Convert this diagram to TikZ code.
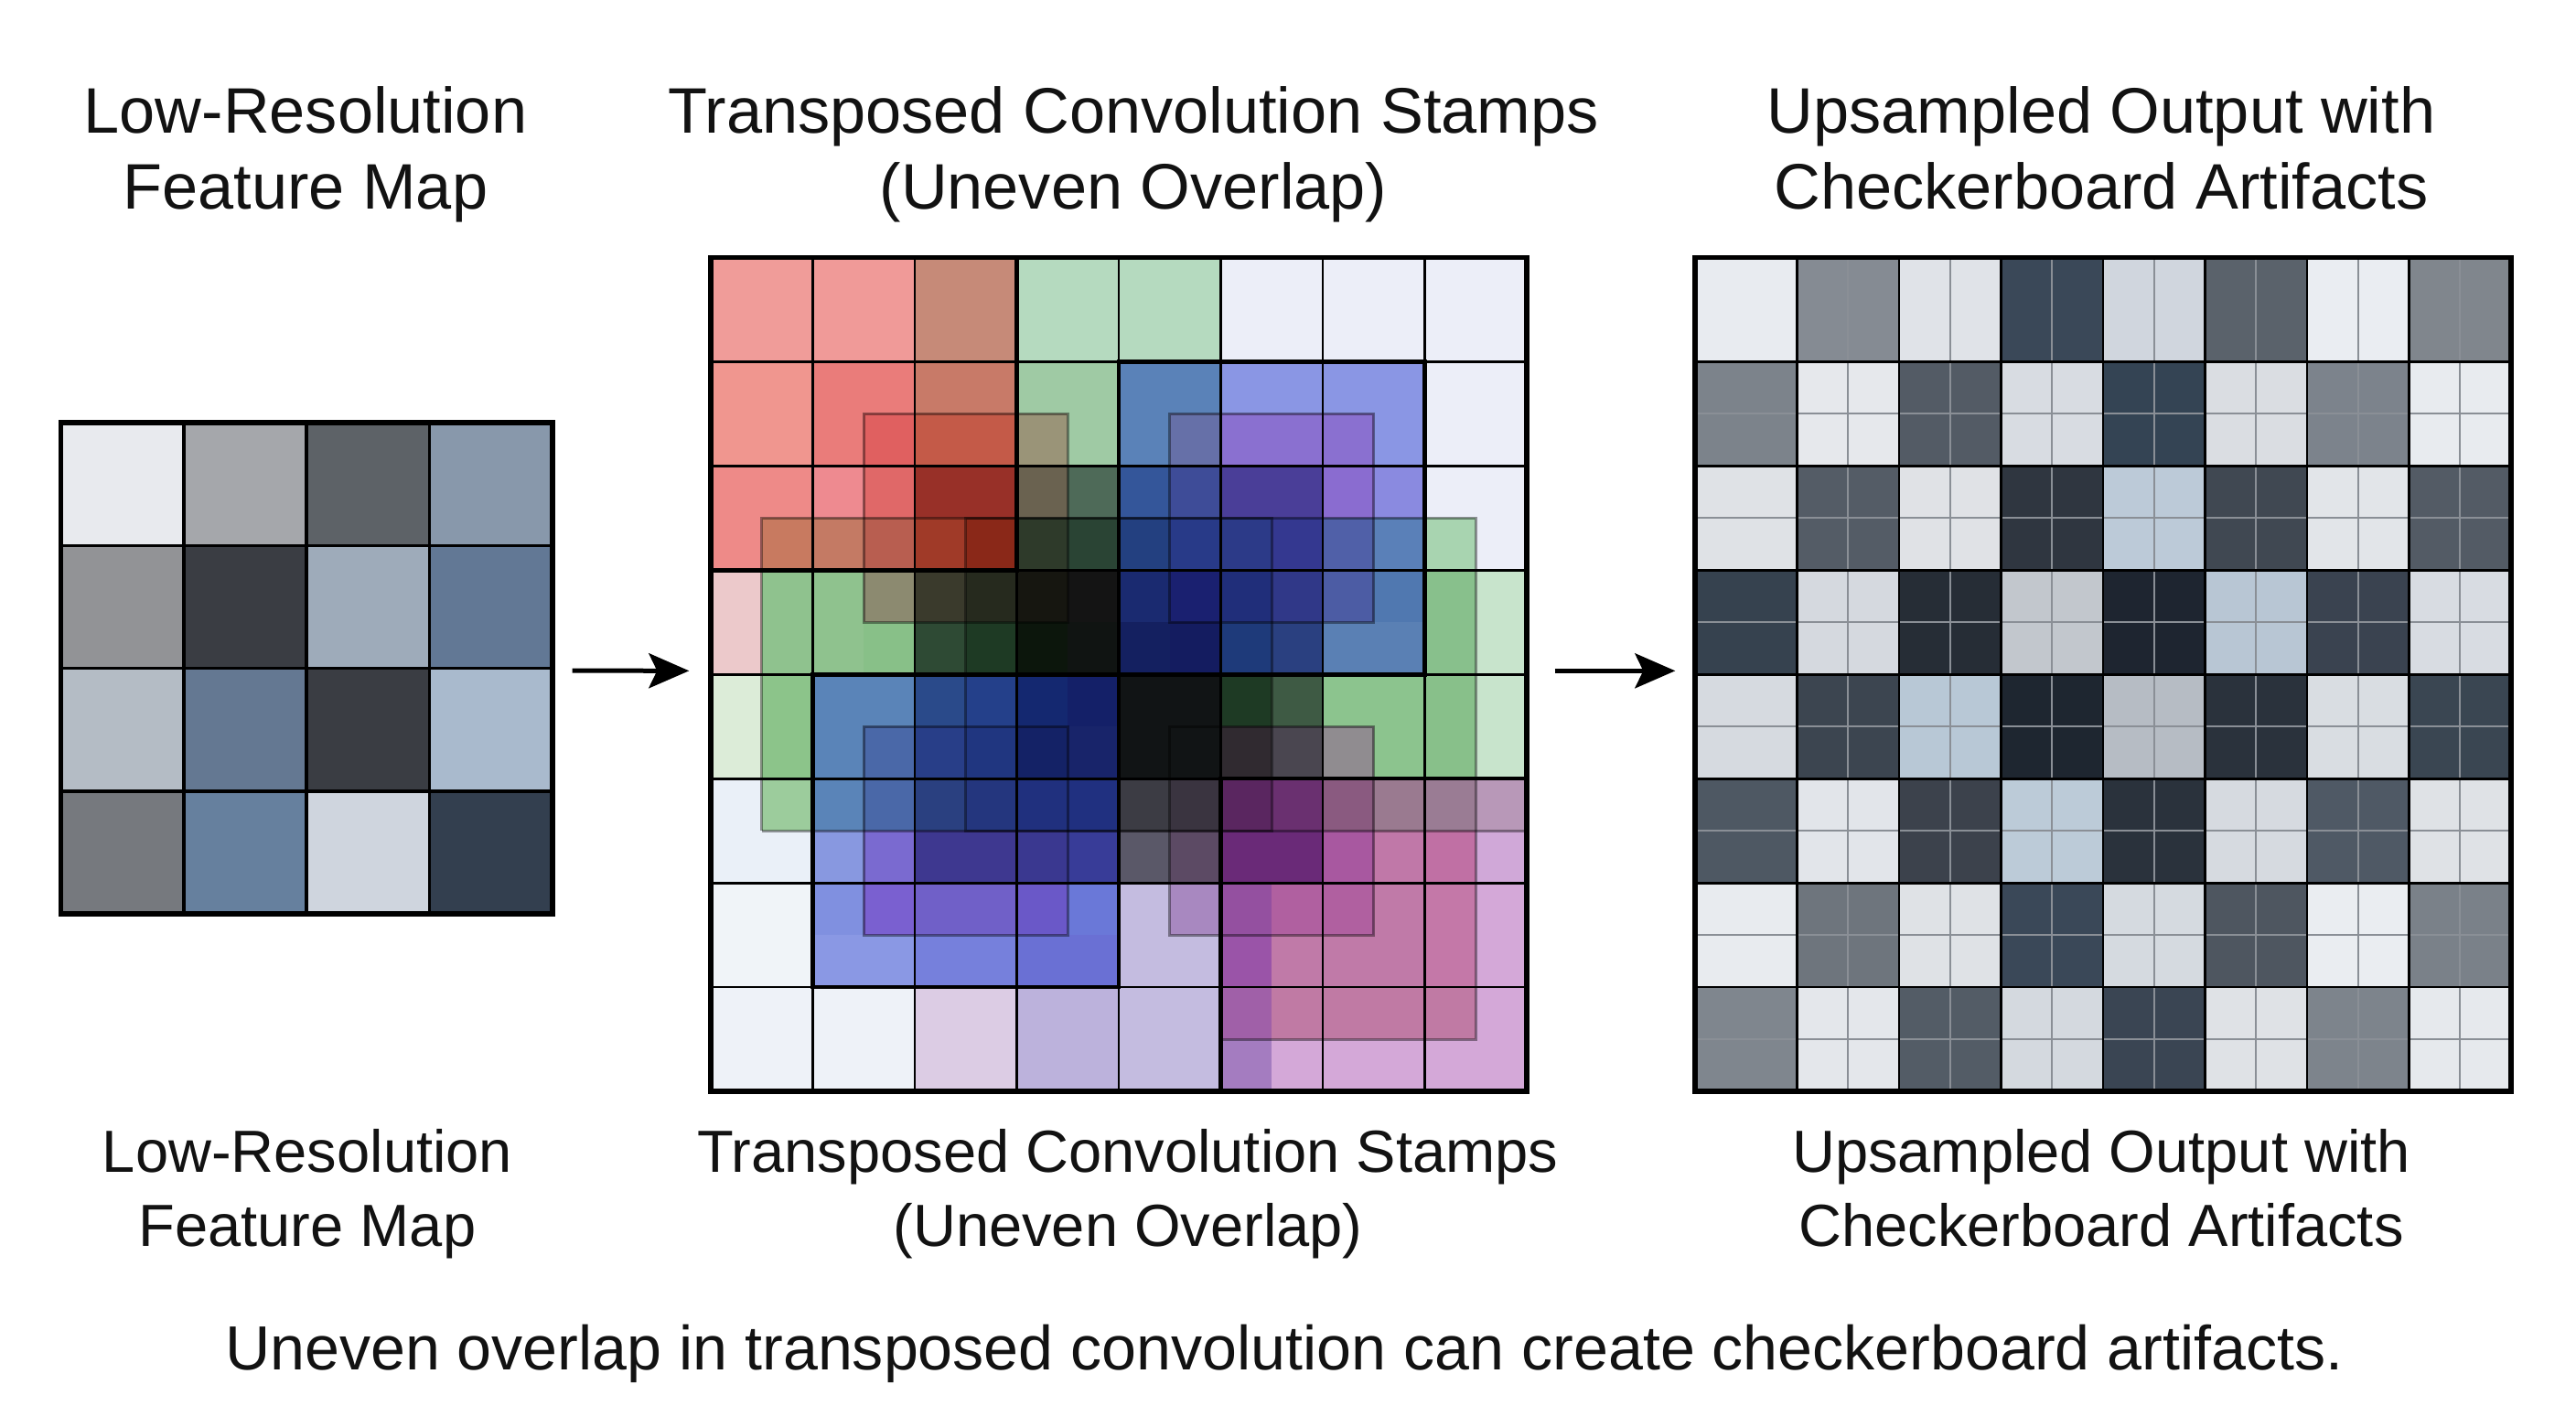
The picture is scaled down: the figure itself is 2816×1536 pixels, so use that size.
\documentclass[tikz,border=0pt]{standalone}
\usepackage{fontspec}
\setmainfont{Liberation Sans}
\usetikzlibrary{arrows.meta}
\newcommand{\rcf}[5]{\definecolor{tmpc}{HTML}{#1}\fill[tmpc] (#2,#3) rectangle (#4,#5);}
\newcommand{\rgrow}[9]{\rcf{#2}{0}{#1}{1}{#1+1}\rcf{#3}{1}{#1}{2}{#1+1}\rcf{#4}{2}{#1}{3}{#1+1}\rcf{#5}{3}{#1}{4}{#1+1}\rcf{#6}{4}{#1}{5}{#1+1}\rcf{#7}{5}{#1}{6}{#1+1}\rcf{#8}{6}{#1}{7}{#1+1}\rcf{#9}{7}{#1}{8}{#1+1}}
\newcommand{\lgrow}[5]{\rcf{#2}{0}{#1}{1}{#1+1}\rcf{#3}{1}{#1}{2}{#1+1}\rcf{#4}{2}{#1}{3}{#1+1}\rcf{#5}{3}{#1}{4}{#1+1}}
\begin{document}
\begin{tikzpicture}[x=0.1mm,y=-0.1mm,
  title/.style={font=\fontsize{20}{23.6}\selectfont, align=center, anchor=base, text=black!93, inner sep=0pt},
  lab/.style={font=\fontsize{18.5}{23}\selectfont, align=center, anchor=base, text=black!93, inner sep=0pt},
  capt/.style={font=\fontsize{19.4}{23}\selectfont, anchor=base, text=black!93, inner sep=0pt},
  gridbox/.style={draw=none, inner sep=0pt, minimum width=#1},
  arr/.style={line width=0.5mm, -{Stealth[length=4.4mm, width=3.8mm, inset=0.9mm]}},
  thinl/.style={line width=0.27mm, black},
  stampl/.style={line width=0.45mm, black, line join=miter},
  outerl/.style={line width=0.55mm, black, line join=miter},
  ovl/.style={line width=0.3mm, draw=black, draw opacity=0.4, line join=miter},
  subl/.style={line width=0.2mm, draw={rgb,255:red,138;green,143;blue,150}}
]
\useasboundingbox (0,0) rectangle (2816,1536);
\fill[white] (0,0) rectangle (2816,1536);

% ---------- titles (anchor = baseline of the last line) ----------
\node[title] (tL) at (334,228) {Low-Resolution\\Feature Map};
\node[title] (tM) at (1239,228) {Transposed Convolution Stamps\\(Uneven Overlap)};
\node[title] (tR) at (2297,228) {Upsampled Output with\\Checkerboard Artifacts};

% ---------- left grid ----------
\begin{scope}[shift={(6.66mm,-46.2mm)}, x=13.43mm, y=-13.43mm]
\lgrow{0}{E8EAEE}{A5A7AB}{5D6267}{8898AB}
\lgrow{1}{929396}{3A3D43}{9EABBA}{627895}
\lgrow{2}{B4BCC5}{647892}{3A3D43}{A9BACD}
\lgrow{3}{76797E}{66809E}{CFD5DE}{333F4F}
\foreach \i in {1,2,3} {
  \draw[line width=0.35mm] (\i,0) -- (\i,4);
  \draw[line width=0.35mm] (0,\i) -- (4,\i);
}
\draw[outerl] (0,0) rectangle (4,4);
\end{scope}

% ---------- middle grid ----------
\begin{scope}[shift={(77.7mm,-28.15mm)}, x=11.15mm, y=-11.394mm]
% row 0
\rcf{F09C99}{0}{0}{1}{1}
\rcf{F09A98}{1}{0}{2}{1}
\rcf{C68A78}{2}{0}{3}{1}
\rcf{B5DABF}{3}{0}{5}{1}
\rcf{ECEEF8}{5}{0}{8}{1}
% row 1
\rcf{F0968F}{0}{1}{1}{2}
\rcf{EA7C7A}{1}{1}{2}{2}
\rcf{C87A68}{2}{1}{3}{2}
\rcf{9FCAA4}{3}{1}{4}{2}
\rcf{5A82B8}{4}{1}{5}{2}
\rcf{8A96E4}{5}{1}{7}{2}
\rcf{ECEEF8}{7}{1}{8}{2}
\rcf{E06060}{1.5}{1.5}{2}{2}
\rcf{C45A48}{2}{1.5}{3}{2}
\rcf{9A9478}{3}{1.5}{3.5}{2}
\rcf{6670A8}{4.5}{1.5}{5}{2}
\rcf{8A70D0}{5}{1.5}{6.5}{2}
% row 2 upper half
\rcf{EE8A88}{0}{2}{1}{2.5}
\rcf{EE8A90}{1}{2}{1.5}{2.5}
\rcf{E06868}{1.5}{2}{2}{2.5}
\rcf{983028}{2}{2}{3}{2.5}
\rcf{6A6250}{3}{2}{3.5}{2.5}
\rcf{4E6A58}{3.5}{2}{4}{2.5}
\rcf{34569A}{4}{2}{4.5}{2.5}
\rcf{3E4C98}{4.5}{2}{5}{2.5}
\rcf{4A3E98}{5}{2}{6}{2.5}
\rcf{8A6CD0}{6}{2}{6.5}{2.5}
\rcf{8A8AE0}{6.5}{2}{7}{2.5}
\rcf{ECEEF8}{7}{2}{8}{2.5}
% row 2 lower half
\rcf{EE8A88}{0}{2.5}{0.5}{3}
\rcf{C87A60}{0.5}{2.5}{1}{3}
\rcf{C47A64}{1}{2.5}{1.5}{3}
\rcf{B85E50}{1.5}{2.5}{2}{3}
\rcf{A03A28}{2}{2.5}{2.5}{3}
\rcf{8A2818}{2.5}{2.5}{3}{3}
\rcf{2E3A2A}{3}{2.5}{3.5}{3}
\rcf{2A4434}{3.5}{2.5}{4}{3}
\rcf{234080}{4}{2.5}{4.5}{3}
\rcf{283A88}{4.5}{2.5}{5}{3}
\rcf{2C3A88}{5}{2.5}{5.5}{3}
\rcf{343890}{5.5}{2.5}{6}{3}
\rcf{5060A8}{6}{2.5}{6.5}{3}
\rcf{5A80B8}{6.5}{2.5}{7}{3}
\rcf{A8D4B0}{7}{2.5}{7.5}{3}
\rcf{ECEEF8}{7.5}{2.5}{8}{3}
% row 3
\rcf{ECC9CB}{0}{3}{0.5}{4}
\rcf{8FC28E}{0.5}{3}{1.5}{4}
\rcf{8C8A70}{1.5}{3}{2}{3.5}
\rcf{88C088}{1.5}{3.5}{2}{4}
\rcf{3A3A2C}{2}{3}{2.5}{3.5}
\rcf{2E4A34}{2}{3.5}{2.5}{4}
\rcf{262A1E}{2.5}{3}{3}{3.5}
\rcf{1E3A24}{2.5}{3.5}{3}{4}
\rcf{161610}{3}{3}{3.5}{3.5}
\rcf{0C160C}{3}{3.5}{3.5}{4}
\rcf{141414}{3.5}{3}{4}{3.5}
\rcf{101412}{3.5}{3.5}{4}{4}
\rcf{1A2A70}{4}{3}{4.5}{3.5}
\rcf{142060}{4}{3.5}{4.5}{4}
\rcf{1A2070}{4.5}{3}{5}{3.5}
\rcf{141C60}{4.5}{3.5}{5}{4}
\rcf{202E7A}{5}{3}{5.5}{3.5}
\rcf{1E3A7A}{5}{3.5}{5.5}{4}
\rcf{303888}{5.5}{3}{6}{3.5}
\rcf{2A4080}{5.5}{3.5}{6}{4}
\rcf{4C5CA4}{6}{3}{6.5}{3.5}
\rcf{5078B0}{6.5}{3}{7}{3.5}
\rcf{5A80B4}{6}{3.5}{7}{4}
\rcf{88C08C}{7}{3}{7.5}{4}
\rcf{C8E4CC}{7.5}{3}{8}{4}
% row 4
\rcf{DCECD8}{0}{4}{0.5}{5}
\rcf{8CC48A}{0.5}{4}{1}{5}
\rcf{5A84B8}{1}{4}{1.5}{5}
\rcf{5A84B8}{1.5}{4}{2}{4.5}
\rcf{4A68A8}{1.5}{4.5}{2}{5}
\rcf{2A4A8A}{2}{4}{2.5}{4.5}
\rcf{283E88}{2}{4.5}{2.5}{5}
\rcf{24408A}{2.5}{4}{3}{4.5}
\rcf{203680}{2.5}{4.5}{3}{5}
\rcf{142870}{3}{4}{3.5}{4.5}
\rcf{142266}{3}{4.5}{3.5}{5}
\rcf{142068}{3.5}{4}{4}{4.5}
\rcf{18246A}{3.5}{4.5}{4}{5}
\rcf{111415}{4}{4}{5}{5}
\rcf{1E3A24}{5}{4}{5.5}{4.5}
\rcf{302A30}{5}{4.5}{5.5}{5}
\rcf{3E5A44}{5.5}{4}{6}{4.5}
\rcf{4A4650}{5.5}{4.5}{6}{5}
\rcf{8CC48E}{6}{4}{6.5}{4.5}
\rcf{908C90}{6}{4.5}{6.5}{5}
\rcf{8CC48E}{6.5}{4}{7}{5}
\rcf{88C08A}{7}{4}{7.5}{5}
\rcf{C8E4CC}{7.5}{4}{8}{5}
% row 5
\rcf{EAF0F8}{0}{5}{0.5}{6}
\rcf{9CCC9C}{0.5}{5}{1}{5.5}
\rcf{EAF0F8}{0.5}{5.5}{1}{6}
\rcf{5A84B8}{1}{5}{1.5}{5.5}
\rcf{8898E0}{1}{5.5}{1.5}{6}
\rcf{4A68A8}{1.5}{5}{2}{5.5}
\rcf{7A6AD0}{1.5}{5.5}{2}{6}
\rcf{2A4080}{2}{5}{2.5}{5.5}
\rcf{24367E}{2.5}{5}{3}{5.5}
\rcf{3E3890}{2}{5.5}{3}{6}
\rcf{20307E}{3}{5}{3.5}{5.5}
\rcf{3A3890}{3}{5.5}{3.5}{6}
\rcf{203080}{3.5}{5}{4}{5.5}
\rcf{383C98}{3.5}{5.5}{4}{6}
\rcf{3C3C44}{4}{5}{4.5}{5.5}
\rcf{5A5868}{4}{5.5}{4.5}{6}
\rcf{3A3440}{4.5}{5}{5}{5.5}
\rcf{5C4A64}{4.5}{5.5}{5}{6}
\rcf{5A2660}{5}{5}{5.5}{5.5}
\rcf{6A3070}{5.5}{5}{6}{5.5}
\rcf{6A2A78}{5}{5.5}{6}{6}
\rcf{8A5A80}{6}{5}{6.5}{5.5}
\rcf{A858A0}{6}{5.5}{6.5}{6}
\rcf{9A7A90}{6.5}{5}{7}{5.5}
\rcf{C078A8}{6.5}{5.5}{7}{6}
\rcf{9A7C94}{7}{5}{7.5}{5.5}
\rcf{C070A4}{7}{5.5}{7.5}{6}
\rcf{B898B8}{7.5}{5}{8}{5.5}
\rcf{D0A8D8}{7.5}{5.5}{8}{6}
% row 6
\rcf{F0F4F8}{0}{6}{1}{7}
\rcf{8090E0}{1}{6}{1.5}{6.5}
\rcf{7A60D0}{1.5}{6}{2}{6.5}
\rcf{8A98E4}{1}{6.5}{2}{7}
\rcf{7060C8}{2}{6}{3}{6.5}
\rcf{7680DC}{2}{6.5}{3}{7}
\rcf{6A58C8}{3}{6}{3.5}{6.5}
\rcf{6A78D8}{3.5}{6}{4}{6.5}
\rcf{6A70D4}{3}{6.5}{4}{7}
\rcf{C4BCE0}{4}{6}{5}{7}
\rcf{A888C0}{4.5}{6}{5}{6.5}
\rcf{9450A0}{5}{6}{5.5}{6.5}
\rcf{9A54A8}{5}{6.5}{5.5}{7}
\rcf{B060A0}{5.5}{6}{6.5}{6.5}
\rcf{C07AA8}{5.5}{6.5}{6.5}{7}
\rcf{C07AA8}{6.5}{6}{7}{7}
\rcf{C478A8}{7}{6}{7.5}{7}
\rcf{D4A8D8}{7.5}{6}{8}{7}
% row 7
\rcf{EEF2F8}{0}{7}{2}{8}
\rcf{DCCCE4}{2}{7}{3}{8}
\rcf{BCB2DC}{3}{7}{4}{8}
\rcf{C4BCE0}{4}{7}{5}{8}
\rcf{A060A8}{5}{7}{5.5}{7.5}
\rcf{A47CC0}{5}{7.5}{5.5}{8}
\rcf{C07AA4}{5.5}{7}{7.5}{7.5}
\rcf{D4A8D8}{5.5}{7.5}{8}{8}
\rcf{D4A8D8}{7.5}{7}{8}{7.5}
% translucent stamp outlines
\draw[ovl] (1.5,1.5) rectangle (3.5,3.5);
\draw[ovl] (4.5,1.5) rectangle (6.5,3.5);
\draw[ovl] (1.5,4.5) rectangle (3.5,6.5);
\draw[ovl] (4.5,4.5) rectangle (6.5,6.5);
\draw[ovl] (2.5,2.5) rectangle (5.5,5.5);
\draw[ovl] (0.5,5.5) -- (0.5,2.5) -- (7.5,2.5) -- (7.5,7.5) -- (5,7.5);
\draw[ovl] (0.5,5.5) -- (8,5.5);
% cell grid
\foreach \i in {1,...,7} {
  \draw[thinl] (\i,0) -- (\i,8);
  \draw[thinl] (0,\i) -- (8,\i);
}
% stamps
\draw[stampl] (0,0) rectangle (3,3);
\draw[stampl] (4,1) rectangle (7,4);
\draw[stampl] (1,4) rectangle (4,7);
\draw[stampl] (5,5) rectangle (8,8);
\draw[outerl] (0,0) rectangle (8,8);
\end{scope}

% ---------- right grid ----------
\begin{scope}[shift={(185.3mm,-28.15mm)}, x=11.15mm, y=-11.394mm]
\rgrow{0}{E8EBF0}{858B93}{E0E3E8}{3A4858}{D0D6DE}{5A626B}{EAEDF2}{80868D}
\rgrow{1}{7C838B}{E6E8EC}{535B65}{D8DCE2}{344454}{DADDE2}{7C838C}{E8EBEF}
\rgrow{2}{DFE2E6}{545C66}{E0E2E6}{2F3640}{BCCAD8}{404852}{E2E5E9}{535B65}
\rgrow{3}{36424F}{D5D9DF}{262D36}{C2C7CD}{1E2530}{B8C6D4}{3A4350}{D8DCE2}
\rgrow{4}{D6DAE0}{3C4550}{B8C8D6}{1E2630}{B6BCC4}{2A323C}{D9DDE2}{3A4652}
\rgrow{5}{4E5863}{E2E5EA}{3C424C}{BCCBD8}{2A323C}{D6DAE0}{4F5965}{DFE2E6}
\rgrow{6}{E8EBEF}{6E757D}{DFE2E6}{3A4858}{D5DAE0}{4E5660}{EAEDF1}{7A8189}
\rgrow{7}{7F868E}{E4E7EB}{535C66}{D4D9DF}{3A4553}{DFE2E6}{7D848C}{E6E9ED}
\foreach \i in {1,...,7} {
  \draw[subl] (\i+0.5,0) -- (\i+0.5,8);
  \draw[subl] (0,\i+0.5) -- (8,\i+0.5);
}
\foreach \i in {1,...,7} {
  \draw[thinl] (\i,0) -- (\i,8);
  \draw[thinl] (0,\i) -- (8,\i);
}
\draw[outerl] (0,0) rectangle (8,8);
\end{scope}

% ---------- grid anchors (named nodes) ----------
\node[gridbox=53.72mm, minimum height=53.72mm] (gridL) at (335.2,730.6) {};
\node[gridbox=89.2mm, minimum height=91.15mm] (gridM) at (1223,737.3) {};
\node[gridbox=89.2mm, minimum height=91.15mm] (gridR) at (2299,737.3) {};

% ---------- arrows ----------
\draw[arr] ([xshift=2.1mm,yshift=-0.25mm]gridL.east) -- ([xshift=-2.3mm,yshift=0.4mm]gridM.west);
\draw[arr] ([xshift=3mm,yshift=0.4mm]gridM.east) -- ([xshift=-2.1mm,yshift=0.4mm]gridR.west);

% ---------- bottom labels (anchor = baseline of the last line) ----------
\node[lab] (bL) at (336,1362) {Low-Resolution\\Feature Map};
\node[lab] (bM) at (1233,1362) {Transposed Convolution Stamps\\(Uneven Overlap)};
\node[lab] (bR) at (2297,1362) {Upsampled Output with\\Checkerboard Artifacts};

\node[capt] (cap) at (1404,1497) {Uneven overlap in transposed convolution can create checkerboard artifacts.};
\end{tikzpicture}
\end{document}
